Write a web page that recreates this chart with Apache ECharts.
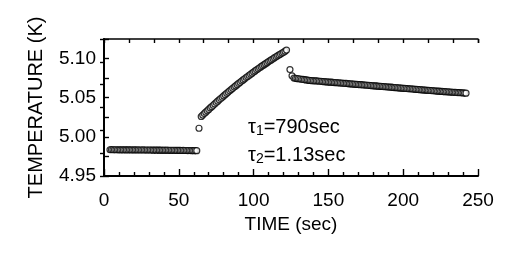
<!DOCTYPE html>
<html>
<head>
<meta charset="utf-8">
<script src="https://cdn.jsdelivr.net/npm/echarts@6/dist/echarts.min.js"></script>
<style>html,body{margin:0;padding:0;background:#fff}#c{width:520px;height:253px}</style>
</head>
<body>
<div id="c"></div>
<script>
// Plateau before heating (sec, K)
const t1 = [4,5,6,7,8,9,10,11,12,13,14,15,16,17,18,19,20,21,22,23,24,25,26,27,28,29,30,31,32,33,34,35,36,37,38,39,40,41,42,43,44,45,46,47,48,49,50,51,52,53,54,55,56,57,58,59,60,61,62];
const v1 = [4.9835,4.9836,4.9835,4.9834,4.9835,4.9834,4.9834,4.9833,4.9834,4.9833,
            4.9834,4.9833,4.9833,4.9834,4.9833,4.9832,4.9833,4.9833,4.9832,4.9833,
            4.9832,4.9832,4.9833,4.9832,4.9831,4.9832,4.9831,4.9832,4.9831,4.9830,
            4.9831,4.9830,4.9831,4.9830,4.9830,4.9829,4.9830,4.9829,4.9830,4.9829,
            4.9828,4.9829,4.9828,4.9829,4.9828,4.9827,4.9828,4.9827,4.9826,4.9827,
            4.9826,4.9826,4.9825,4.9826,4.9825,4.9825,4.9824,4.9825,4.9824];
// Heating ramp
const t2 = [63.5,65,66,67,68,69,70,71,72,73,74,75,76,77,78,79,80,81,82,83,84,85,86,87,88,89,90,91,92,93,94,95,96,97,98,99,100,101,102,103,104,105,106,107,108,109,110,111,112,113,114,115,116,117,118,119,120,121,122];
const v2 = [5.0110,5.0260,5.0278,5.0297,5.0315,5.0333,5.0351,5.0369,5.0386,5.0404,5.0421,
            5.0439,5.0456,5.0473,5.0490,5.0506,5.0523,5.0539,5.0556,5.0572,5.0588,
            5.0604,5.0620,5.0636,5.0651,5.0667,5.0682,5.0697,5.0712,5.0727,5.0742,
            5.0757,5.0771,5.0785,5.0800,5.0814,5.0828,5.0842,5.0856,5.0869,5.0883,
            5.0896,5.0909,5.0922,5.0935,5.0948,5.0961,5.0973,5.0986,5.0998,5.1011,
            5.1023,5.1035,5.1046,5.1058,5.1070,5.1081,5.1094,5.1108];
// Relaxation after heater off
const t3 = [124.3,125.7,127,128,129,130,131,132,133,134,135,136,137,138,139,140,141,142,143,144,145,146,147,148,149,150,151,152,153,154,155,156,157,158,159,160,161,162,163,164,165,166,167,168,169,170,171,172,173,174,175,176,177,178,179,180,181,182,183,184,185,186,187,188,189,190,191,192,193,194,195,196,197,198,199,200,201,202,203,204,205,206,207,208,209,210,211,212,213,214,215,216,217,218,219,220,221,222,223,224,225,226,227,228,229,230,231,232,233,234,235,236,237,238,239,240,241,242];
const v3 = [5.0860,5.0780,5.0752,
            5.0748,5.0745,5.0742,5.0739,5.0736,5.0733,5.0730,5.0727,5.0725,5.0722,
            5.0720,5.0718,5.0717,5.0715,5.0714,5.0712,5.0710,5.0709,5.0707,5.0705,
            5.0704,5.0702,5.0701,5.0699,5.0698,5.0696,5.0694,5.0693,5.0691,5.0689,
            5.0688,5.0686,5.0685,5.0683,5.0682,5.0680,5.0678,5.0677,5.0675,5.0673,
            5.0672,5.0670,5.0669,5.0667,5.0666,5.0664,5.0662,5.0661,5.0659,5.0657,
            5.0656,5.0654,5.0653,5.0651,5.0650,5.0648,5.0646,5.0645,5.0643,5.0641,
            5.0640,5.0638,5.0637,5.0635,5.0634,5.0632,5.0630,5.0629,5.0627,5.0625,
            5.0624,5.0622,5.0621,5.0619,5.0618,5.0616,5.0614,5.0613,5.0611,5.0609,
            5.0608,5.0606,5.0605,5.0603,5.0602,5.0600,5.0598,5.0597,5.0595,5.0593,
            5.0592,5.0590,5.0589,5.0587,5.0586,5.0584,5.0583,5.0581,5.0580,5.0578,
            5.0577,5.0576,5.0575,5.0573,5.0572,5.0570,5.0569,5.0567,5.0566,5.0565,
            5.0564,5.0562,5.0561,5.0559,5.0558];
const xTickLabels = [0,50,100,150,200,250];
const yTickLabels = ['4.95','5.00','5.05','5.10'];

const pts = (t, v) => t.map((x, i) => [x, v[i]]);
const FONT = 'Liberation Sans';
const black = '#000';
const chart = echarts.init(document.getElementById('c'));
const sym = {type:'scatter', symbol:'circle', symbolSize:6, itemStyle:{color:'#fff', borderColor:black, borderWidth:1.2}, xAxisIndex:0, yAxisIndex:0, silent:true, animation:false};
const rich = {t:{fontFamily:FONT,fontSize:20,fontWeight:'normal',color:black,lineHeight:22},s:{fontFamily:FONT,fontSize:14,fontWeight:'normal',color:black,lineHeight:14,verticalAlign:'bottom'}};
chart.setOption({
  animation:false,
  grid:{left:104, right:42, top:39, bottom:77},
  title:[
    {left:243, top:111, text:'{t|τ}{s|1}{t|=790sec}', textStyle:{fontWeight:'normal', rich:rich}},
    {left:243, top:139, text:'{t|τ}{s|2}{t|=1.13sec}', textStyle:{fontWeight:'normal', rich:rich}}
  ],
  xAxis:[
    {type:'value', position:'bottom', min:0, max:250, interval:50,
     name:'TIME (sec)', nameLocation:'middle', nameGap:30,
     nameTextStyle:{fontFamily:FONT, fontSize:19, color:black},
     axisLine:{lineStyle:{color:black, width:2}},
     axisTick:{inside:true, length:7, lineStyle:{color:black, width:1.4}},
     minorTick:{show:true, splitNumber:5, length:4, lineStyle:{color:black, width:1.4}},
     axisLabel:{fontFamily:FONT, fontSize:19, color:black, margin:15,
       formatter:v => xTickLabels.includes(v) ? String(v) : ''},
     splitLine:{show:false}},
    {type:'value', position:'top', min:0, max:250, interval:250/15,
     axisLine:{lineStyle:{color:black, width:1.5}},
     axisTick:{inside:true, length:4, lineStyle:{color:black, width:1.4}},
     axisLabel:{show:false}, splitLine:{show:false}}
  ],
  yAxis:[
    {type:'value', position:'left', min:4.95, max:5.125, interval:0.025,
     name:'TEMPERATURE (K)', nameLocation:'middle', nameGap:58,
     nameTextStyle:{fontFamily:FONT, fontSize:20, color:black},
     axisLine:{lineStyle:{color:black, width:2}},
     axisTick:{inside:true, length:5, lineStyle:{color:black, width:1.4}},
     axisLabel:{fontFamily:FONT, fontSize:19, color:black, margin:8,
       formatter:v => { const s = v.toFixed(2); return (yTickLabels.includes(s) && Math.abs(v*20 - Math.round(v*20)) < 1e-6) ? s : ''; }},
     splitLine:{show:false}},
    {type:'value', position:'right', min:0, max:6, interval:1,
     axisLine:{lineStyle:{color:black, width:1.5}},
     axisTick:{inside:true, length:4, lineStyle:{color:black, width:1.4}},
     axisLabel:{show:false}, splitLine:{show:false}}
  ],
  series:[
    Object.assign({data:pts(t1, v1)}, sym),
    Object.assign({data:pts(t2, v2)}, sym),
    Object.assign({data:pts(t3, v3)}, sym)
  ]
});
</script>
</body>
</html>
